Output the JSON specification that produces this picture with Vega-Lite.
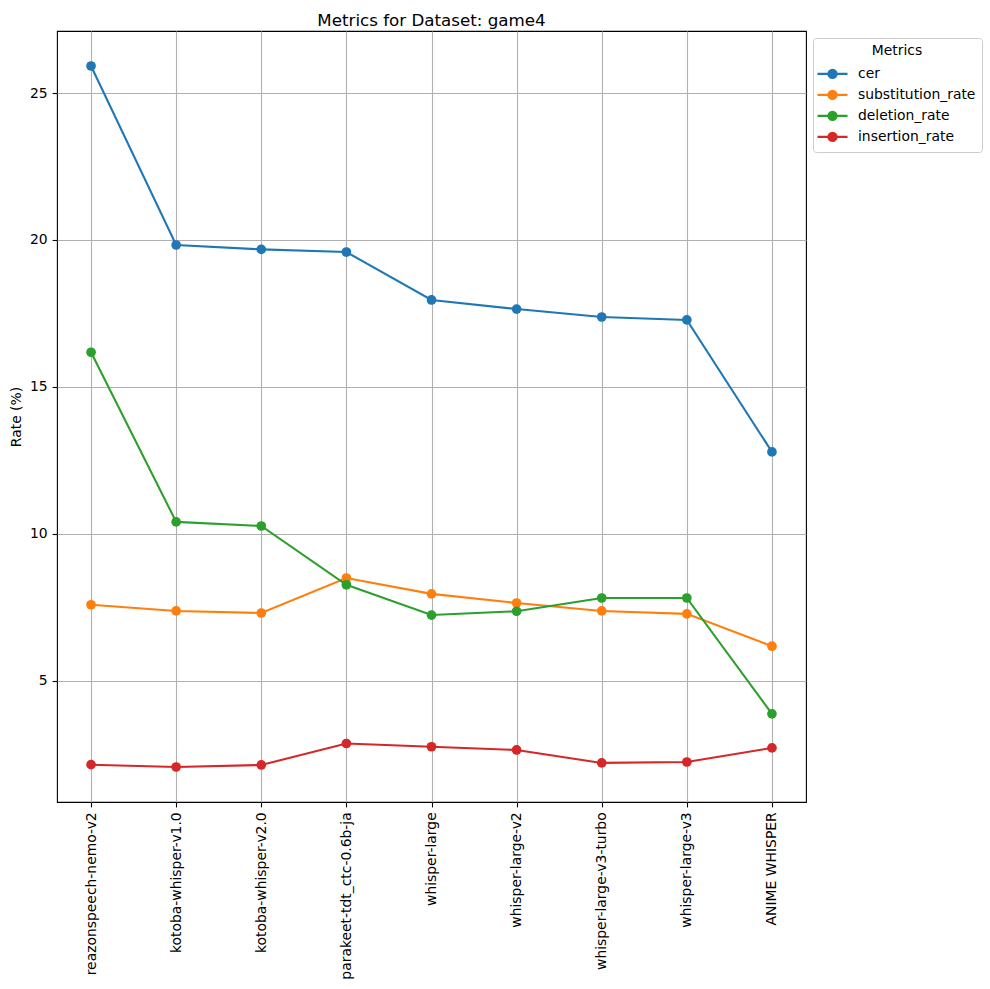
{
  "$schema": "https://vega.github.io/schema/vega-lite/v6.json",
  "autosize": {"type": "none"},
  "width": 749,
  "height": 771,
  "padding": {"left": 57, "top": 31, "right": 184, "bottom": 187},
  "background": "white",
  "title": {
    "text": "Metrics for Dataset: game4",
    "font": "DejaVu Sans",
    "fontSize": 16.7,
    "fontWeight": "normal",
    "color": "black",
    "anchor": "middle",
    "baseline": "alphabetic",
    "offset": -12
  },
  "datasets": {
    "metrics": [
      {"model": "reazonspeech-nemo-v2", "metric": "cer", "value": 25.92},
      {"model": "kotoba-whisper-v1.0", "metric": "cer", "value": 19.83},
      {"model": "kotoba-whisper-v2.0", "metric": "cer", "value": 19.68},
      {"model": "parakeet-tdt_ctc-0.6b-ja", "metric": "cer", "value": 19.59},
      {"model": "whisper-large", "metric": "cer", "value": 17.96},
      {"model": "whisper-large-v2", "metric": "cer", "value": 17.65},
      {"model": "whisper-large-v3-turbo", "metric": "cer", "value": 17.38},
      {"model": "whisper-large-v3", "metric": "cer", "value": 17.28},
      {"model": "ANIME WHISPER", "metric": "cer", "value": 12.79},
      {"model": "reazonspeech-nemo-v2", "metric": "substitution_rate", "value": 7.59},
      {"model": "kotoba-whisper-v1.0", "metric": "substitution_rate", "value": 7.38},
      {"model": "kotoba-whisper-v2.0", "metric": "substitution_rate", "value": 7.31},
      {"model": "parakeet-tdt_ctc-0.6b-ja", "metric": "substitution_rate", "value": 8.5},
      {"model": "whisper-large", "metric": "substitution_rate", "value": 7.96},
      {"model": "whisper-large-v2", "metric": "substitution_rate", "value": 7.65},
      {"model": "whisper-large-v3-turbo", "metric": "substitution_rate", "value": 7.38},
      {"model": "whisper-large-v3", "metric": "substitution_rate", "value": 7.28},
      {"model": "ANIME WHISPER", "metric": "substitution_rate", "value": 6.18},
      {"model": "reazonspeech-nemo-v2", "metric": "deletion_rate", "value": 16.18},
      {"model": "kotoba-whisper-v1.0", "metric": "deletion_rate", "value": 10.41},
      {"model": "kotoba-whisper-v2.0", "metric": "deletion_rate", "value": 10.27},
      {"model": "parakeet-tdt_ctc-0.6b-ja", "metric": "deletion_rate", "value": 8.27},
      {"model": "whisper-large", "metric": "deletion_rate", "value": 7.24},
      {"model": "whisper-large-v2", "metric": "deletion_rate", "value": 7.37},
      {"model": "whisper-large-v3-turbo", "metric": "deletion_rate", "value": 7.82},
      {"model": "whisper-large-v3", "metric": "deletion_rate", "value": 7.82},
      {"model": "ANIME WHISPER", "metric": "deletion_rate", "value": 3.88},
      {"model": "reazonspeech-nemo-v2", "metric": "insertion_rate", "value": 2.15},
      {"model": "kotoba-whisper-v1.0", "metric": "insertion_rate", "value": 2.07},
      {"model": "kotoba-whisper-v2.0", "metric": "insertion_rate", "value": 2.14},
      {"model": "parakeet-tdt_ctc-0.6b-ja", "metric": "insertion_rate", "value": 2.87},
      {"model": "whisper-large", "metric": "insertion_rate", "value": 2.76},
      {"model": "whisper-large-v2", "metric": "insertion_rate", "value": 2.65},
      {"model": "whisper-large-v3-turbo", "metric": "insertion_rate", "value": 2.21},
      {"model": "whisper-large-v3", "metric": "insertion_rate", "value": 2.24},
      {"model": "ANIME WHISPER", "metric": "insertion_rate", "value": 2.72}
    ]
  },
  "data": {"name": "metrics"},
  "encoding": {
    "x": {
      "field": "model",
      "type": "nominal",
      "sort": null,
      "title": null,
      "scale": {"type": "point", "padding": 0.4},
      "axis": {
        "labelAngle": -90,
        "grid": true,
        "labelPadding": 4.9,
        "tickSize": 4.9
      }
    },
    "y": {
      "field": "value",
      "type": "quantitative",
      "title": "Rate (%)",
      "scale": {"domain": [0.88, 27.11], "nice": false, "zero": false},
      "axis": {
        "values": [5, 10, 15, 20, 25],
        "grid": true,
        "labelPadding": 4.9,
        "tickSize": 4.9,
        "titlePadding": 6
      }
    },
    "color": {
      "field": "metric",
      "type": "nominal",
      "title": "Metrics",
      "scale": {
        "domain": ["cer", "substitution_rate", "deletion_rate", "insertion_rate"],
        "range": ["#1f77b4", "#ff7f0e", "#2ca02c", "#d62728"]
      },
      "legend": {
        "orient": "none",
        "legendX": 756,
        "legendY": 7,
        "symbolType": "M-2,0L2,0M-0.55,0A0.55,0.55,0,1,1,0.55,0A0.55,0.55,0,1,1,-0.55,0Z",
        "symbolSize": 225,
        "symbolStrokeWidth": 2.08,
        "symbolOffset": 4.5,
        "labelOffset": 16.5,
        "rowPadding": 3,
        "padding": 6,
        "titlePadding": 7,
        "titleAnchor": "middle",
        "strokeColor": "#cccccc",
        "fillColor": "white",
        "cornerRadius": 3,
        "encode": {
          "symbols": {
            "update": {
              "fill": {"scale": "color", "field": "value"},
              "stroke": {"scale": "color", "field": "value"},
              "opacity": {"value": 1}
            }
          }
        }
      }
    }
  },
  "layer": [
    {"mark": {"type": "line", "strokeWidth": 2.08}},
    {"mark": {"type": "circle", "size": 94, "opacity": 1}}
  ],
  "config": {
    "font": "DejaVu Sans",
    "view": {"stroke": "black", "strokeWidth": 1.1},
    "axis": {
      "domain": false,
      "labelFont": "DejaVu Sans",
      "labelFontSize": 13.9,
      "labelColor": "black",
      "tickColor": "black",
      "tickWidth": 1.1,
      "gridColor": "#b0b0b0",
      "gridWidth": 1.1,
      "gridOpacity": 1,
      "titleFont": "DejaVu Sans",
      "titleFontSize": 13.9,
      "titleFontWeight": "normal",
      "titleColor": "black"
    },
    "legend": {
      "labelFont": "DejaVu Sans",
      "labelFontSize": 13.9,
      "labelColor": "black",
      "titleFont": "DejaVu Sans",
      "titleFontSize": 13.9,
      "titleFontWeight": "normal",
      "titleColor": "black"
    }
  }
}
